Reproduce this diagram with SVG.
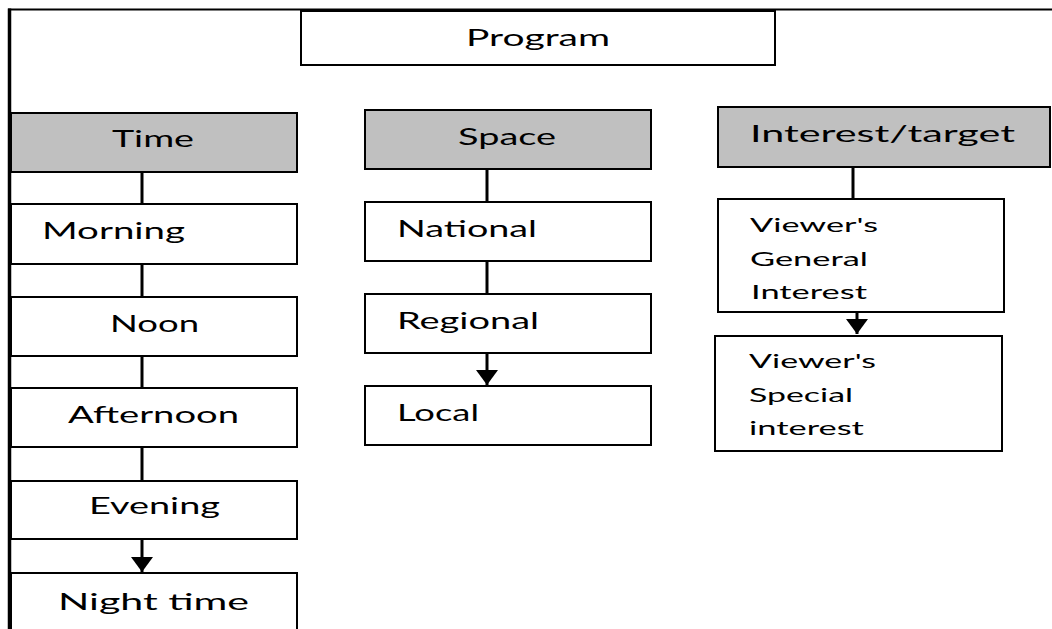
<svg xmlns="http://www.w3.org/2000/svg" width="1052" height="629" viewBox="0 0 1052 629">
<style>
.box{fill:#ffffff;stroke:#000;stroke-width:2}
.head{fill:#c0c0c0;stroke:#000;stroke-width:2}
.t{font-family:Lato,"Open Sans","Liberation Sans",sans-serif;font-size:23px;fill:#000}
.s{font-family:Lato,"Open Sans","Liberation Sans",sans-serif;font-size:19px;fill:#000}
.c{stroke:#000;stroke-width:3;fill:none}
.frame{stroke:#000;fill:none}
</style>
<defs>
<marker id="arr" markerUnits="userSpaceOnUse" viewBox="0 0 15 22" refX="15" refY="11" markerWidth="15" markerHeight="22" orient="auto">
<path d="M0,0 L15,11 L0,22 z" fill="#000"/>
</marker>
</defs>
<rect width="1052" height="629" fill="#fff"/>
<g id="frame">
<line class="frame" x1="8" y1="9.5" x2="1052" y2="9.5" stroke-width="2"/>
<line class="frame" x1="9.5" y1="8.5" x2="9.5" y2="629" stroke-width="3.5"/>
</g>
<g id="connectors">
<line class="c" x1="142" y1="172" x2="142" y2="204"/>
<line class="c" x1="142" y1="264" x2="142" y2="297"/>
<line class="c" x1="142" y1="356" x2="142" y2="388"/>
<line class="c" x1="142" y1="447" x2="142" y2="481"/>
<line class="c" x1="142" y1="539" x2="142" y2="572" marker-end="url(#arr)"/>
<line class="c" x1="487" y1="169" x2="487" y2="202"/>
<line class="c" x1="487" y1="261" x2="487" y2="294"/>
<line class="c" x1="487" y1="353" x2="487" y2="385" marker-end="url(#arr)"/>
<line class="c" x1="853" y1="167" x2="853" y2="199"/>
<line class="c" x1="857" y1="312" x2="857" y2="334" marker-end="url(#arr)"/>
</g>
<g id="program">
<rect class="box" x="301" y="11" width="474" height="54"/>
<text class="t" x="466" y="46" textLength="144" lengthAdjust="spacingAndGlyphs">Program</text>
</g>
<g id="time">
<rect class="head" x="11" y="113" width="286" height="59"/>
<text class="t" x="112" y="147" textLength="82" lengthAdjust="spacingAndGlyphs">Time</text>
</g>
<g id="morning">
<rect class="box" x="11" y="204" width="286" height="60"/>
<text class="t" x="42" y="239" textLength="143" lengthAdjust="spacingAndGlyphs">Morning</text>
</g>
<g id="noon">
<rect class="box" x="11" y="297" width="286" height="59"/>
<text class="t" x="110" y="332" textLength="89" lengthAdjust="spacingAndGlyphs">Noon</text>
</g>
<g id="afternoon">
<rect class="box" x="11" y="388" width="286" height="59"/>
<text class="t" x="68" y="423" textLength="171" lengthAdjust="spacingAndGlyphs">Afternoon</text>
</g>
<g id="evening">
<rect class="box" x="11" y="481" width="286" height="58"/>
<text class="t" x="89" y="514" textLength="131" lengthAdjust="spacingAndGlyphs">Evening</text>
</g>
<g id="night">
<rect class="box" x="11" y="573" width="286" height="70"/>
<text class="t" x="58" y="610" textLength="191" lengthAdjust="spacingAndGlyphs">Night time</text>
</g>
<g id="space">
<rect class="head" x="365" y="110" width="286" height="59"/>
<text class="t" x="458" y="145" textLength="98" lengthAdjust="spacingAndGlyphs">Space</text>
</g>
<g id="national">
<rect class="box" x="365" y="202" width="286" height="59"/>
<text class="t" x="397" y="237" textLength="140" lengthAdjust="spacingAndGlyphs">National</text>
</g>
<g id="regional">
<rect class="box" x="365" y="294" width="286" height="59"/>
<text class="t" x="397" y="329" textLength="142" lengthAdjust="spacingAndGlyphs">Regional</text>
</g>
<g id="local">
<rect class="box" x="365" y="386" width="286" height="59"/>
<text class="t" x="397" y="421" textLength="82" lengthAdjust="spacingAndGlyphs">Local</text>
</g>
<g id="interest">
<rect class="head" x="718" y="107" width="332" height="60"/>
<text class="t" x="750" y="142" textLength="265" lengthAdjust="spacingAndGlyphs">Interest/target</text>
</g>
<g id="general">
<rect class="box" x="718" y="199" width="286" height="113"/>
<text class="s" x="750" y="232" textLength="128" lengthAdjust="spacingAndGlyphs">Viewer's</text>
<text class="s" x="750" y="266" textLength="118" lengthAdjust="spacingAndGlyphs">General</text>
<text class="s" x="751" y="299" textLength="116" lengthAdjust="spacingAndGlyphs">Interest</text>
</g>
<g id="special">
<rect class="box" x="715" y="336" width="287" height="115"/>
<text class="s" x="749" y="368" textLength="127" lengthAdjust="spacingAndGlyphs">Viewer's</text>
<text class="s" x="749" y="402" textLength="104" lengthAdjust="spacingAndGlyphs">Special</text>
<text class="s" x="749" y="435" textLength="115" lengthAdjust="spacingAndGlyphs">interest</text>
</g>
</svg>
